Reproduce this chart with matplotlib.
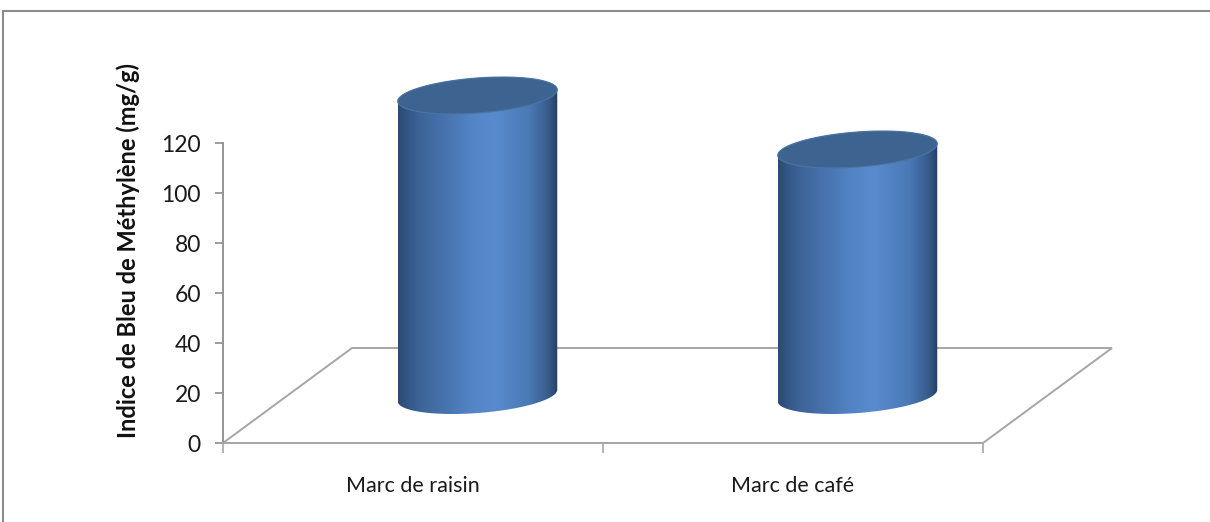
import numpy as np
import matplotlib.pyplot as plt
from matplotlib.patches import Polygon
from matplotlib.lines import Line2D
from matplotlib.colors import LinearSegmentedColormap

# données
categories = ['Marc de raisin', 'Marc de café']
valeurs = [120, 98.4]
graduations = [0, 20, 40, 60, 80, 100, 120]

W, H = 1210, 522
fig = plt.figure(figsize=(W / 100, H / 100), dpi=100)

# zone de tracé en pixels (face avant du graphique 3D)
x0_px, y0_px = 223, 443
px_cat = 380.0      # pixels par catégorie
px_val = 2.5        # pixels par unité
droite_px, haut_px = 1135, 55
ax = fig.add_axes([x0_px / W, (H - y0_px) / H,
                   (droite_px - x0_px) / W, (y0_px - haut_px) / H])

# profondeur du sol (décalage oblique)
prof_dx = 129 / px_cat
prof_dy = 95 / px_val

gris = '#a6a6a6'
sol = Polygon([(0, 0), (2, 0), (2 + prof_dx, prof_dy), (prof_dx, prof_dy)],
              closed=True, fill=False, edgecolor=gris, lw=1.4, zorder=1)
ax.add_patch(sol)

# axes
for s in ['top', 'right']:
    ax.spines[s].set_visible(False)
ax.spines['left'].set_bounds(0, 120)
ax.spines['bottom'].set_bounds(0, 2)
ax.spines['left'].set_color('#8c8c8c')
ax.spines['bottom'].set_color(gris)
ax.spines['left'].set_linewidth(1.3)
ax.spines['bottom'].set_linewidth(1.4)
ax.set_yticks(graduations)
ax.set_yticklabels([str(g) for g in graduations])
ax.set_xticks([0, 1, 2])
ax.set_xticklabels(['', '', ''])
ax.set_xticks([0.5, 1.5], minor=True)
ax.set_xticklabels(categories, minor=True)
ax.tick_params(axis='y', length=6, width=1.2, color='#8c8c8c',
               labelsize=16.5, labelcolor='#1a1a1a', pad=10)
ax.tick_params(axis='x', which='major', length=7, width=1.2, color=gris)
ax.tick_params(axis='x', which='minor', length=0, labelsize=15.5,
               labelcolor='#1a1a1a', pad=24)
for lab in ax.get_xticklabels(minor=True) + ax.get_yticklabels():
    lab.set_family('Lato')

ax.set_ylabel('Indice de Bleu de Méthylène (mg/g)', fontsize=17,
              fontweight='bold', family='Lato', color='#111111')
ax.yaxis.set_label_coords((128 - x0_px) / (droite_px - x0_px),
                          (y0_px - 250) / (y0_px - haut_px))
ax.yaxis.label.set_va('center')

# cylindres
degrade = LinearSegmentedColormap.from_list('cyl', [
    (0.0, '#2c4a74'), (0.12, '#3b6295'), (0.45, '#5283c4'),
    (0.6, '#5a8bcf'), (0.82, '#4a79b6'), (0.94, '#375d8c'),
    (1.0, '#243f63')])

r_x = 75.7 / px_cat     # rayon horizontal
r_p = 0.1946            # rayon en profondeur (fraction du sol)
theta0 = np.arctan2(r_p * prof_dx, r_x)

def ellipse(cx, cy, t):
    return (cx + r_x * np.cos(t) + r_p * np.sin(t) * prof_dx,
            cy + r_p * np.sin(t) * prof_dy)

for i, v in enumerate(valeurs):
    cx = i + 0.5 + 0.5 * prof_dx
    base = 0.5 * prof_dy
    sommet = base + v
    tb = np.linspace(theta0 - np.pi, theta0, 100)
    tt = np.linspace(theta0, theta0 + np.pi, 100)
    xb, yb = ellipse(cx, base, tb)
    xt, yt = ellipse(cx, sommet, tt)
    contour = Polygon(np.column_stack([np.r_[xb, xt], np.r_[yb, yt]]),
                      closed=True, facecolor='none', edgecolor='none', zorder=2)
    ax.add_patch(contour)
    img = ax.imshow(np.linspace(0, 1, 256)[None, :], cmap=degrade,
                    extent=[xb.min(), xb.max(), yb.min(), yt.max()],
                    aspect='auto', zorder=2, interpolation='bilinear')
    img.set_clip_path(contour)
    ta = np.linspace(0, 2 * np.pi, 200)
    xe, ye = ellipse(cx, sommet, ta)
    ax.add_patch(Polygon(np.column_stack([xe, ye]), closed=True,
                         facecolor='#3d6491', edgecolor='#4b74a6',
                         lw=0.8, zorder=3))

ax.set_xlim(0, (droite_px - x0_px) / px_cat)
ax.set_ylim(0, (y0_px - haut_px) / px_val)

# cadre du graphique
fig.add_artist(Line2D([3 / W, 1], [1 - 11 / H, 1 - 11 / H],
                      transform=fig.transFigure, color='#8c8c8c', lw=1.5))
fig.add_artist(Line2D([3 / W, 3 / W], [0, 1 - 11 / H],
                      transform=fig.transFigure, color='#8c8c8c', lw=1.5))

fig.savefig('out.png', dpi=100, facecolor='white')
